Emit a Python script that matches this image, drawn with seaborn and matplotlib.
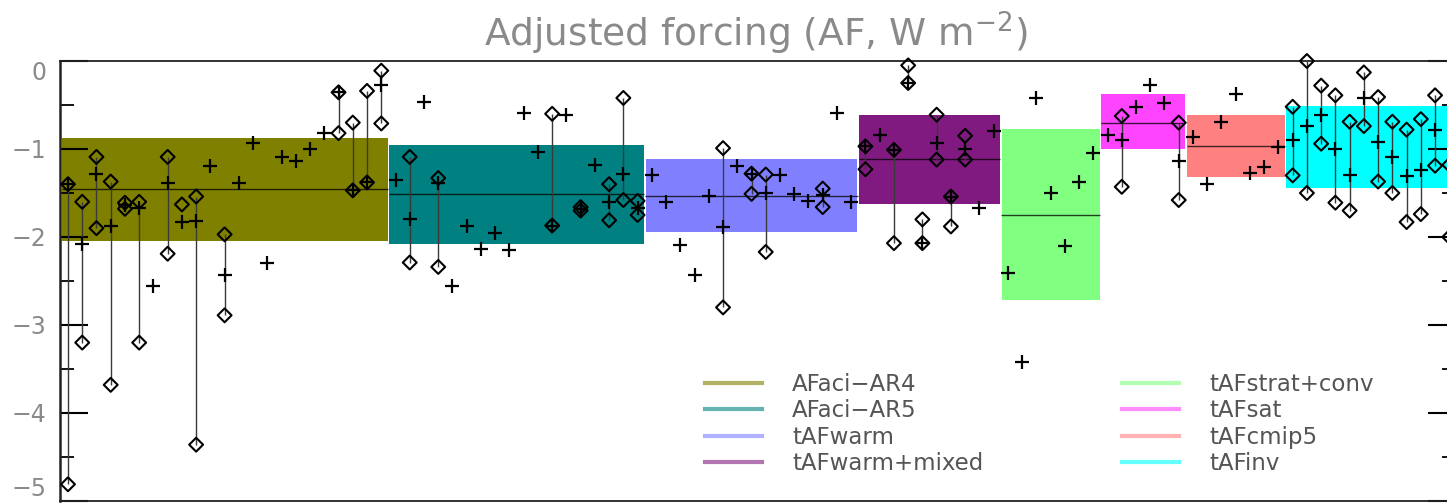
import numpy as np
import pandas as pd
import matplotlib
matplotlib.use("Agg")
import matplotlib.pyplot as plt
import seaborn as sns
from matplotlib.lines import Line2D

# ---------------- data ----------------
categories = ["AFaci\u2212AR4", "AFaci\u2212AR5", "tAFwarm", "tAFwarm+mixed",
              "tAFstrat+conv", "tAFsat", "tAFcmip5", "tAFinv"]
category_sizes = [23, 18, 15, 10, 7, 6, 7, 12]
category_colors = ["#808000", "#008080", "#8080ff", "#801a80",
                   "#80ff80", "#ff44ff", "#ff8080", "#00ffff"]
box_top = [-0.87, -0.95, -1.11, -0.61, -0.77, -0.38, -0.61, -0.51]
box_bottom = [-2.04, -2.08, -1.94, -1.62, -2.72, -1.00, -1.32, -1.44]
box_mean = [-1.45, -1.51, -1.53, -1.11, -1.75, -0.70, -0.97, np.nan]

nan = np.nan
plus_values = [
    -1.40, -2.08, -1.28, -1.88, -1.64, -1.67, -2.56, -1.39, -1.83, -1.82,
    -1.19, -2.43, -1.39, -0.935, -2.29, -1.09, -1.14, -1.00, -0.82, -0.356,
    -1.47, -1.38, -0.27,
    -1.35, -1.80, -0.47, -1.39, -2.56, -1.88, -2.14, -1.95, -2.15, -0.595,
    -1.03, -1.87, -0.61, -1.68, -1.18, -1.60, -1.28, -1.67,
    -1.30, -1.60, -2.09, -2.43, -1.53, -1.89, -1.19, -1.28, -1.50, -1.30,
    -1.51, -1.59, -1.52, -0.59, -1.60,
    -0.97, -0.84, -1.01, -0.25, -2.07, -0.93, -1.54, -1.00, -1.67, -0.80,
    -2.41, -3.42, -0.42, -1.50, -2.10, -1.38, -1.04,
    -0.84, -0.90, -0.52, -0.27, -0.48, -1.14,
    -0.86, -1.40, -0.69, -0.37, -1.27, -1.21, -0.98,
    -0.90, -0.74, -0.61, -1.00, -1.30, -0.42, -0.92, -1.09, -1.31, -1.24,
    -0.78, nan,
]
diamond_upper = [
    -1.40, -1.60, -1.09, -1.37, -1.61, -1.60, nan, -1.09, -1.63, -1.54,
    nan, -1.97, nan, nan, nan, nan, nan, nan, nan, -0.356,
    -0.70, -0.34, -0.11,
    nan, -1.09, nan, -1.33, nan, nan, nan, nan, nan, nan,
    nan, -0.60, nan, -1.66, nan, -1.40, -0.42, -1.59,
    nan, nan, nan, nan, nan, -0.99, nan, -1.28, -1.29, nan,
    nan, nan, -1.45, nan, nan,
    -0.97, nan, -1.01, -0.05, -1.80, -0.61, -1.54, -0.85, nan, nan,
    nan, nan, nan, nan, nan, nan, nan,
    nan, -0.625, nan, nan, nan, -0.70,
    nan, nan, nan, nan, nan, nan, nan,
    -0.52, 0.0, -0.28, -0.39, -0.69, -0.13, -0.41, -0.69, -0.78, -0.66,
    -0.39, -1.18,
]
diamond_lower = [
    -4.81, -3.20, -1.90, -3.68, -1.68, -3.20, nan, -2.19, nan, -4.36,
    nan, -2.89, nan, nan, nan, nan, nan, nan, nan, -0.82,
    -1.47, -1.38, -0.71,
    nan, -2.29, nan, -2.34, nan, nan, nan, nan, nan, nan,
    nan, -1.87, nan, -1.70, nan, -1.81, -1.58, -1.75,
    nan, nan, nan, nan, nan, -2.80, nan, -1.51, -2.17, nan,
    nan, nan, -1.66, nan, nan,
    -1.23, nan, -2.07, -0.25, -2.07, -1.12, -1.88, -1.12, nan, nan,
    nan, nan, nan, nan, nan, nan, nan,
    nan, -1.43, nan, nan, nan, -1.58,
    nan, nan, nan, nan, nan, nan, nan,
    -1.30, -1.50, -0.94, -1.61, -1.70, -0.74, -1.37, -1.50, -1.83, -1.74,
    -1.19, -2.00,
]
title_text = r"Adjusted forcing (AF, W m$^{-2}$)"
y_ticks = [0, -1, -2, -3, -4, -5]

# ---------------- figure ----------------
W, H = 1447, 503
fig = plt.figure(figsize=(W / 100, H / 100), dpi=100)
ax = fig.add_axes([60 / W, 2 / H, (1456 - 60) / W, (501 - 61) / H])

slot = np.arange(len(plus_values))
df = pd.DataFrame({"slot": slot, "plus": plus_values,
                   "dup": diamond_upper, "dlo": diamond_lower})

# category boxes and mean lines
starts = np.concatenate([[0], np.cumsum(category_sizes)[:-1]]) - 0.5
for s, n, top, bot, mean, col in zip(starts, category_sizes, box_top,
                                     box_bottom, box_mean, category_colors):
    ax.bar(s + n / 2, top - bot, bottom=bot, width=n - 0.12, color=col,
           edgecolor="none", zorder=1)
    if not np.isnan(mean):
        ax.hlines(mean, s + 0.05, s + n - 0.05, color="black", lw=1.0,
                  alpha=0.75, zorder=2)

# vertical connectors between diamonds
conn = df.dropna(subset=["dup", "dlo"])
ax.vlines(conn["slot"], conn["dlo"], conn["dup"], color="#3a3a3a", lw=1.0,
          zorder=3)

# diamonds
dia = pd.concat([df[["slot", "dup"]].rename(columns={"dup": "v"}),
                 df[["slot", "dlo"]].rename(columns={"dlo": "v"})]).dropna()
sns.scatterplot(data=dia, x="slot", y="v", marker="D", s=50,
                facecolor="none", edgecolor="black", linewidth=1.5,
                zorder=4, clip_on=False, ax=ax)
# pluses
pl = df.dropna(subset=["plus"])
sns.scatterplot(data=pl, x="slot", y="plus", marker="+", s=110,
                color="black", linewidth=1.6, zorder=5, clip_on=False, ax=ax)

ax.set_xlim(-0.56, 97.47)
ax.set_ylim(-5, 0)
ax.set_xlabel("")
ax.set_ylabel("")
ax.set_xticks([])
ax.set_yticks(y_ticks)
ax.set_yticks(np.arange(-4.5, 0, 1.0), minor=True)
ax.tick_params(axis="y", which="major", direction="in", length=20, width=1.5,
               right=True, labelsize=17, labelcolor="#8a8a8a", pad=10)
ax.tick_params(axis="y", which="minor", direction="in", length=10, width=1.3,
               right=True)
labels = ax.get_yticklabels()
labels[0].set_va("top")
labels[-1].set_va("bottom")
for sp in ax.spines.values():
    sp.set_color("#222222")
    sp.set_linewidth(1.3)
ax.spines["left"].set_linewidth(1.8)

fig.text(756 / W, 1 - 33 / H, title_text, ha="center", va="center",
         fontsize=27, color="#8a8a8a")

# legend (two columns)
handles = [Line2D([], [], color=c, lw=3, alpha=0.6) for c in category_colors]
for col_i, xpos in enumerate([705, 1122]):
    leg = ax.legend(handles[col_i * 4:(col_i + 1) * 4],
                    categories[col_i * 4:(col_i + 1) * 4],
                    loc="upper left", bbox_to_anchor=(xpos / W, 1 - 373 / H),
                    bbox_transform=fig.transFigure, frameon=False,
                    fontsize=16.5, labelcolor="#555555", handlelength=2.5,
                    handletextpad=1.3, borderpad=0, borderaxespad=0,
                    labelspacing=0.15)
    if col_i == 0:
        ax.add_artist(leg)

fig.savefig("out.png", dpi=100)
